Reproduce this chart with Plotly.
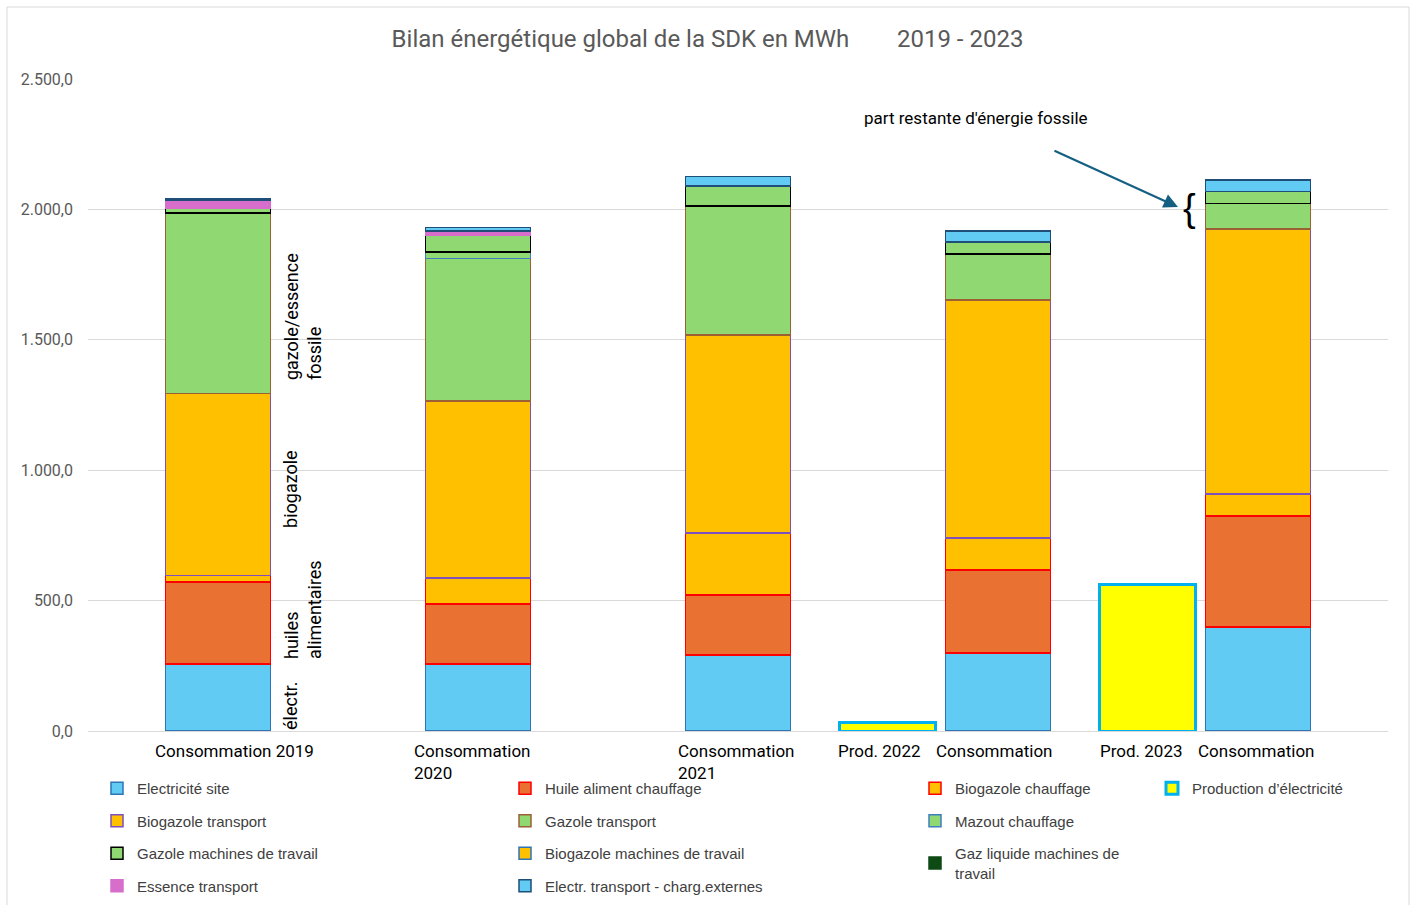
import plotly.graph_objects as go

# ---------------- data ----------------
categories = ["Consommation 2019", "Consommation 2020", "Consommation 2021",
              "Consommation 2022", "Consommation 2023"]

elec_site = [257, 257, 291, 299, 399]
huile_chauffage = [314, 230, 230, 318, 425]
biogazole_chauffage = [25, 100, 238, 123, 85]
biogazole_transport = [698, 678, 759, 913, 1016]
gazole_transport = [692, 546, 495, 176, 97]
mazout_chauffage = [0, 25, 0, 0, 0]
gazole_machines = [18, 66, 77, 46, 46]
biogazole_machines = [0, 0, 0, 0, 0]
gaz_liquide_machines = [0, 0, 0, 0, 0]
essence_transport = [31, 16, 0, 0, 0]
electr_transport = [5, 13, 36, 42, 44]

prod_categories = ["Consommation 2022", "Consommation 2023"]
prod_labels = ["Prod. 2022", "Prod. 2023"]
production_elec = [33, 560]

y_tickvals = [0, 500, 1000, 1500, 2000, 2500]
y_ticktext = ["0,0", "500,0", "1.000,0", "1.500,0", "2.000,0", "2.500,0"]

# ---------------- styles ----------------
LBLUE = "#61CBF3"
ORANGE = "#E97132"
GOLD = "#FFC000"
GREEN = "#8FD872"
PINK = "#D86ECC"
DKGREEN = "#0E4A14"

series = [
    # name, values, fill, border, legend
    ("Electricité site", elec_site, LBLUE, "#2E75B6", "legend"),
    ("Huile aliment chauffage", huile_chauffage, ORANGE, "#FF0000", "legend2"),
    ("Biogazole chauffage", biogazole_chauffage, GOLD, "#FF0000", "legend3"),
    ("Biogazole transport", biogazole_transport, GOLD, "#7F4FC0", "legend"),
    ("Gazole transport", gazole_transport, GREEN, "#9C6035", "legend2"),
    ("Mazout chauffage", mazout_chauffage, GREEN, "#3F7FC0", "legend3"),
    ("Gazole machines de travail", gazole_machines, GREEN, "#000000", "legend"),
    ("Biogazole machines de travail", biogazole_machines, GOLD, "#2E75B6", "legend2"),
    ("Gaz liquide machines de<br>travail", gaz_liquide_machines, DKGREEN, DKGREEN, "legend3"),
    ("Essence transport", essence_transport, PINK, PINK, "legend"),
    ("Electr. transport - charg.externes", electr_transport, LBLUE, "#1F4E79", "legend2"),
]

fig = go.Figure()
for i, (name, vals, fill, border, leg) in enumerate(series):
    fig.add_trace(go.Bar(
        x=categories,
        y=[v if v else None for v in vals],
        name=name,
        marker=dict(color=fill, line=dict(color=border, width=1.5)),
        legend=leg,
        legendgroup=f"g{i}",
        hoverinfo="name+y",
    ))

fig.add_trace(go.Bar(
    x=prod_categories,
    y=production_elec,
    name="Production d’électricité",
    marker=dict(color="#FFFF00", line=dict(color="#00B0F0", width=3)),
    xaxis="x2",
    width=0.37,
    offset=-0.61,
    legend="legend4",
    legendgroup="gprod",
))

LEGFONT = dict(family="Liberation Sans, Arial, sans-serif", size=15, color="#404040")


def leg(xpx):
    return dict(
        x=(xpx - 88) / 1300, y=-0.0629, xanchor="left", yanchor="top",
        orientation="v", font=LEGFONT, bgcolor="rgba(0,0,0,0)",
        tracegroupgap=10, itemwidth=30, traceorder="grouped",
    )


TXT = "Roboto, Liberation Sans, sans-serif"

fig.update_layout(
    width=1415, height=905,
    margin=dict(l=88, r=27, t=79, b=174, autoexpand=False),
    paper_bgcolor="white", plot_bgcolor="white",
    barmode="stack", bargap=0.596,
    showlegend=True,
    title=dict(
        text="Bilan énergétique global de la SDK en MWh\u00a0\u00a0\u00a0\u00a0\u00a0\u00a0\u00a0 2019 - 2023",
        x=0.5, xanchor="center", y=1 - 39 / 905, yanchor="middle",
        font=dict(family=TXT, size=24, color="#595959"),
    ),
    xaxis=dict(
        type="category", categoryorder="array", categoryarray=categories,
        range=[-0.5, 4.5], showticklabels=False, showgrid=False,
        showline=True, linecolor="#D9D9D9", linewidth=1, zeroline=False,
    ),
    xaxis2=dict(
        type="category", categoryorder="array", categoryarray=categories,
        range=[-0.5, 4.5], overlaying="x", visible=False,
    ),
    yaxis=dict(
        range=[0, 2500], tickvals=y_tickvals, ticktext=y_ticktext,
        showgrid=True, gridcolor="#D9D9D9", gridwidth=1, zeroline=False,
        tickfont=dict(family=TXT, size=16, color="#595959"),
        ticklabelstandoff=14, showline=False,
    ),
    legend=leg(97),
    legend2=leg(505),
    legend3=leg(915),
    legend4=leg(1152),
)

# category labels
LBL = dict(family=TXT, size=17, color="#000000")
labels = [
    ("Consommation 2019", "center", 16),
    ("Consommation<br>2020", "left", -66),
    ("Consommation<br>2021", "left", -62),
    ("Consommation", "center", -4),
    ("Consommation", "center", -2),
]
for cat, (text, anchor, shift) in zip(categories, labels):
    fig.add_annotation(x=cat, y=0, xref="x", yref="paper", text=text, showarrow=False,
                       xanchor=anchor, align="left", yanchor="top", yshift=-8,
                       xshift=shift, font=LBL)
for cat, text, shift in zip(prod_categories, prod_labels, [-119, -117]):
    fig.add_annotation(x=cat, y=0, xref="x", yref="paper", text=text, showarrow=False,
                       xanchor="center", yanchor="top", yshift=-8, xshift=shift, font=LBL)

# vertical texts beside first bar
VT = dict(family=TXT, size=18, color="#000000")
vtexts = [
    ("gazole/essence<br>fossile", 1587, 85),
    ("biogazole", 928, 73),
    ("huiles<br>alimentaires", 464, 85),
    ("électr.", 96, 73),
]
for text, yv, shift in vtexts:
    fig.add_annotation(x=categories[0], y=yv, xref="x", yref="y", text=text, showarrow=False,
                       textangle=-90, align="left", xshift=shift, font=VT)

# fossil remainder note
fig.add_annotation(x=(976 - 88) / 1300, y=(731 - 118) / 0.2608, xref="paper", yref="y",
                   xanchor="center", yanchor="middle",
                   text="part restante d'énergie fossile", showarrow=False,
                   font=dict(family=TXT, size=17, color="#000000"))
fig.add_annotation(x=(1178 - 88) / 1300, y=(731 - 207) / 0.2608, xref="paper", yref="y",
                   ax=-125, ay=-57, text="", showarrow=True, arrowhead=2, arrowsize=1.3,
                   arrowwidth=2.2, arrowcolor="#156082")
fig.add_annotation(x=(1189 - 88) / 1300, y=(731 - 208) / 0.2608, xref="paper", yref="y",
                   xanchor="center", yanchor="middle",
                   text="{", showarrow=False,
                   font=dict(family="Liberation Sans, sans-serif", size=38, color="#000000"))

# chart border
fig.add_shape(type="rect", xref="paper", yref="paper",
              x0=(7 - 88) / 1300, x1=(1409 - 88) / 1300,
              y0=(731 - 920) / 652, y1=(731 - 7) / 652,
              line=dict(color="#D9D9D9", width=1), fillcolor="rgba(0,0,0,0)", layer="below")

fig.write_html("out.html", config={"displayModeBar": False},
               post_script="document.body.style.margin='0';")
